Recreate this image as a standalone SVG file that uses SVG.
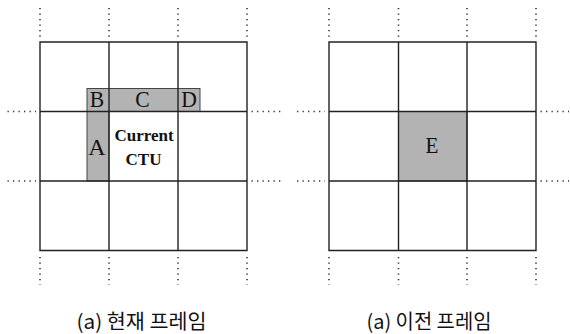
<svg xmlns="http://www.w3.org/2000/svg" width="570" height="334" viewBox="0 0 570 334">
<style>
.g{stroke:#222;stroke-width:1.4;fill:none}
.d{stroke:#333;stroke-width:1.6;stroke-dasharray:1.3 4.2;fill:none}
.sh{fill:#b3b3b3;stroke:#444;stroke-width:1}
.l{font-family:"Liberation Serif",serif;font-size:24px;fill:#111;text-anchor:middle}
.b{font-family:"Liberation Serif",serif;font-size:17px;font-weight:bold;fill:#111;text-anchor:middle}
.c{font-family:"Noto Sans CJK KR","Noto Sans",sans-serif;font-size:20px;fill:#111;text-anchor:middle}
</style>
<g id="current-frame">
<rect class="sh" x="87" y="88.5" width="113" height="23"/>
<rect class="sh" x="87" y="111.5" width="22" height="69.5"/>
<path class="g" d="M40 42H247V250.5H40Z M109 42V250.5 M178 42V250.5 M40 111.5H247 M40 181H247"/>
<path class="d" d="M40 8V37 M109 8V37 M178 8V37 M247 8V37 M40 257V285 M109 257V285 M178 257V285 M247 257V285 M7.5 111.5H36 M7.5 181H36 M251.5 111.5H284 M251.5 181H284"/>
<text class="l" x="97" y="107.5" transform="translate(97 0) scale(0.9 1) translate(-97 0)">B</text>
<text class="l" x="142.5" y="107.5" transform="translate(142.5 0) scale(0.9 1) translate(-142.5 0)">C</text>
<text class="l" x="189" y="107.5" transform="translate(189 0) scale(0.9 1) translate(-189 0)">D</text>
<text class="l" x="97" y="155">A</text>
<text class="b" x="144" y="141">Current</text>
<text class="b" x="143.5" y="164.5">CTU</text>
<text class="c" x="141.5" y="329" textLength="130" lengthAdjust="spacingAndGlyphs">(a) 현재 프레임</text>
</g>
<g id="previous-frame">
<rect class="sh" x="398.5" y="111.5" width="68.5" height="69.5"/>
<path class="g" d="M329 42H536V250.5H329Z M398.5 42V250.5 M467 42V250.5 M329 111.5H536 M329 181H536"/>
<path class="d" d="M329 8V37 M398.5 8V37 M467 8V37 M536 8V37 M329 257V285 M398.5 257V285 M467 257V285 M536 257V285 M297 111.5H325 M297 181H325 M540.5 111.5H569 M540.5 181H569"/>
<text class="l" x="432" y="153.5" transform="translate(432 0) scale(0.88 1) translate(-432 0)">E</text>
<text class="c" x="429" y="329" textLength="125" lengthAdjust="spacingAndGlyphs">(a) 이전 프레임</text>
</g>
</svg>
